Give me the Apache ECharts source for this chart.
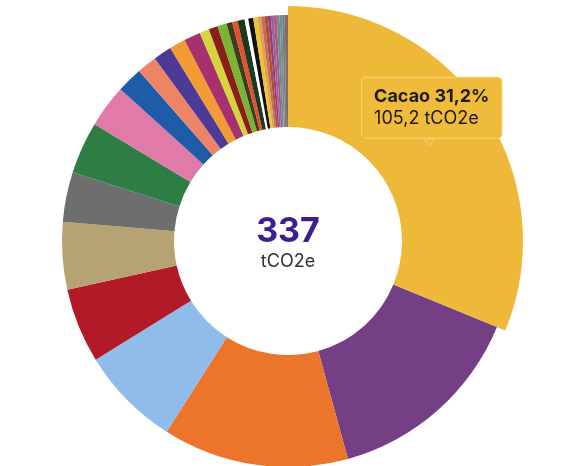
<!DOCTYPE html>
<html>
<head>
<meta charset="utf-8">
<title>Empreinte carbone</title>
<script src="https://cdn.jsdelivr.net/npm/echarts@6/dist/echarts.min.js"></script>
<style>
  html, body { margin: 0; padding: 0; background: #ffffff; }
  #chart { width: 567px; height: 466px; }
</style>
</head>
<body>
<div id="chart"></div>
<script>
// Emission sources, in tCO2e
const categories = [
  'Cacao', 'Poste 2', 'Poste 3', 'Poste 4', 'Poste 5', 'Poste 6', 'Poste 7',
  'Poste 8', 'Poste 9', 'Poste 10', 'Poste 11', 'Poste 12', 'Poste 13', 'Poste 14',
  'Poste 15', 'Poste 16', 'Poste 17', 'Poste 18', 'Poste 19', 'Poste 20', 'Poste 21',
  'Poste 22', 'Poste 23', 'Poste 24', 'Poste 25', 'Poste 26', 'Poste 27', 'Poste 28',
  'Poste 29', 'Poste 30', 'Poste 31', 'Poste 32', 'Poste 33'
];
const values = [
  105.2, 48.9, 44.8, 24.2, 18.0, 16.2, 12.0,
  12.6, 10.3, 6.2, 4.8, 4.4, 3.9, 4.0,
  2.3, 2.2, 2.2, 1.4, 1.3, 1.7, 0.9,
  1.2, 1.0, 0.9, 0.8, 0.8, 0.7, 0.7,
  0.7, 0.7, 0.6, 0.6, 0.8
];
const colors = [
  '#eeb938', '#753f86', '#ec752b', '#8fbcea', '#b21a27', '#b5a373', '#6e6e6e',
  '#2e7d45', '#e07aa8', '#1f5ca8', '#ee8466', '#4c3a97', '#f29a34', '#a7306e',
  '#d6d43c', '#8a1e18', '#7ab532', '#3f3a22', '#e3502a', '#1c3a22', '#ffffff',
  '#111111', '#f0c330', '#e0a050', '#c07050', '#b04a3a', '#9a3a7a', '#8a6a9a',
  '#c04a8a', '#5a9a7a', '#7a8a8a', '#6a7a9a', '#8a6a5a'
];
const unit = 'tCO2e';
const highlighted = 0;

const fmt = (v, d) => v.toFixed(d).replace('.', ',');
const total = values.reduce((a, b) => a + b, 0);

const tipBg = '#efbb3a';
const tipBorder = '#f7d27a';
const tipText = '#1f1a10';

const seriesData = categories.map((name, i) => {
  const item = { name: name, value: values[i], itemStyle: { color: colors[i] } };
  if (i === highlighted) {
    item.label = {
      show: true,
      position: 'inside',
      offset: [0, -37],
      backgroundColor: tipBg,
      borderColor: tipBorder,
      borderWidth: 1,
      borderRadius: 4,
      padding: [8, 12],
      formatter: p => '{a|' + p.name + ' ' + fmt(p.percent, 1) + '%}\n{b|' + fmt(p.value, 1) + ' ' + unit + '}',
      rich: {
        a: { fontFamily: 'Inter', fontWeight: 'bold', fontSize: 18, lineHeight: 22, color: tipText, align: 'left' },
        b: { fontFamily: 'Inter', fontWeight: 'normal', fontSize: 18, lineHeight: 22, color: tipText, align: 'left' }
      }
    };
    item.emphasis = { itemStyle: { color: colors[i] } };
  }
  return item;
});

const chart = echarts.init(document.getElementById('chart'), null, { renderer: 'canvas' });
chart.setOption({
  animation: false,
  backgroundColor: '#ffffff',
  series: [{
    type: 'pie',
    center: [288, 241],
    radius: [114, 226],
    startAngle: 90,
    clockwise: true,
    avoidLabelOverlap: false,
    label: { show: false },
    labelLine: { show: false },
    itemStyle: { borderWidth: 0 },
    emphasis: { scale: true, scaleSize: 9, focus: 'none', itemStyle: { color: 'inherit' } },
    stateAnimation: { duration: 0 },
    data: seriesData
  }]
});

chart.dispatchAction({ type: 'highlight', seriesIndex: 0, dataIndex: highlighted });

// Centre total and tooltip pointer, placed from the computed pie layout
const layout = chart.getModel().getSeriesByIndex(0).getData().getItemLayout(highlighted);
const mid = (layout.startAngle + layout.endAngle) / 2;
const rm = (layout.r + layout.r0) / 2;
const tipX = layout.cx + rm * Math.cos(mid);
const tipY = layout.cy + rm * Math.sin(mid);

chart.setOption({
  graphic: [
    {
      type: 'text',
      x: layout.cx, y: layout.cy - 9,
      style: {
        text: String(Math.round(total)),
        font: 'bold 34px Inter',
        fill: '#3c1e8e',
        align: 'center',
        verticalAlign: 'middle'
      }
    },
    {
      type: 'text',
      x: layout.cx, y: layout.cy + 21,
      style: {
        text: unit,
        font: '18px Inter',
        fill: '#333333',
        align: 'center',
        verticalAlign: 'middle'
      }
    },
    {
      type: 'polygon',
      z: 100,
      shape: { points: [[tipX - 6, tipY - 7.5], [tipX + 6, tipY - 7.5], [tipX, tipY - 1]] },
      style: { fill: tipBg, stroke: tipBorder, lineWidth: 1 }
    }
  ]
});
</script>
</body>
</html>
